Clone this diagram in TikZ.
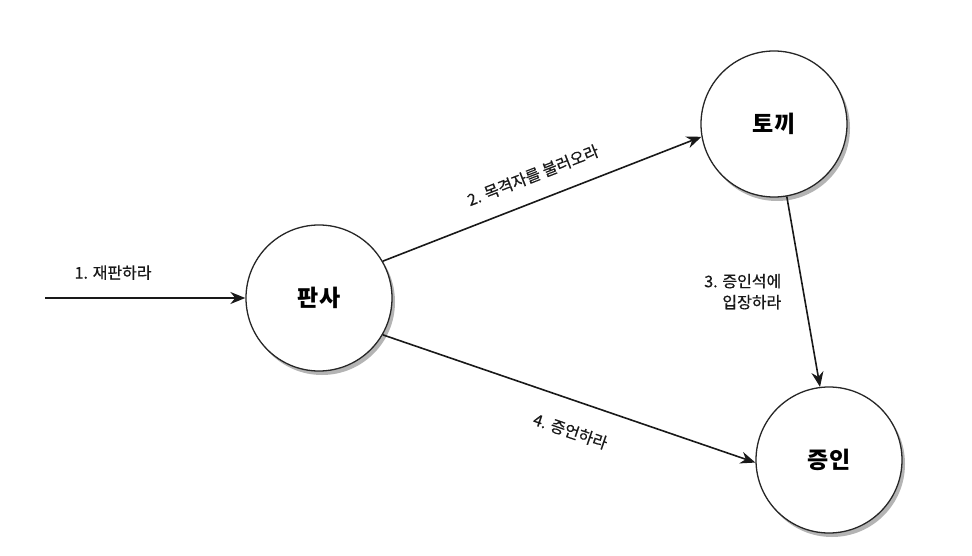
\documentclass[tikz,border=0pt]{standalone}
\usepackage{fontspec}
\setmainfont{Noto Sans CJK KR}
\newfontfamily\lblfont[FakeBold=0.5]{Noto Sans CJK KR}
\usetikzlibrary{arrows.meta,shadows}
\begin{document}
\begin{tikzpicture}[x=1pt,y=-1pt,
  actor/.style={circle,draw=black!85,line width=1.3pt,fill=white,minimum size=146pt,inner sep=0pt,
    font=\fontsize{23}{26}\selectfont\bfseries,
    drop shadow={shadow xshift=3pt,shadow yshift=-4pt,opacity=0.45,fill=black!65}},
  msg/.style={line width=1.6pt,draw=black!90,-{Stealth[length=15pt,width=12pt]}},
  lbl/.style={font=\lblfont\fontsize{16}{21}\selectfont,text=black!90}]
\useasboundingbox (0,0) rectangle (972,556);
\fill[white] (0,0) rectangle (972,556);
\node[actor] (judge) at (319,298) {판사};
\node[actor] (rabbit) at (774,124) {토끼};
\node[actor] (witness) at (829,460) {증인};
\coordinate (start) at (45,298);
\draw[msg] (start) -- (judge.west) node[lbl,pos=0.34,above=14pt] {1. 재판하라};
\draw[msg] (judge.30) -- (rabbit.190) node[lbl,midway,sloped,above=14pt] {2. 목격자를 불러오라};
\draw[msg] (rabbit.-80) -- (witness.97) node[lbl,pos=0.5,left=18pt,align=right] {3. 증인석에\\입장하라};
\draw[msg] (judge.-30) -- (witness.182) node[lbl,pos=0.53,sloped,below=19pt] {4. 증언하라};
\end{tikzpicture}
\end{document}
